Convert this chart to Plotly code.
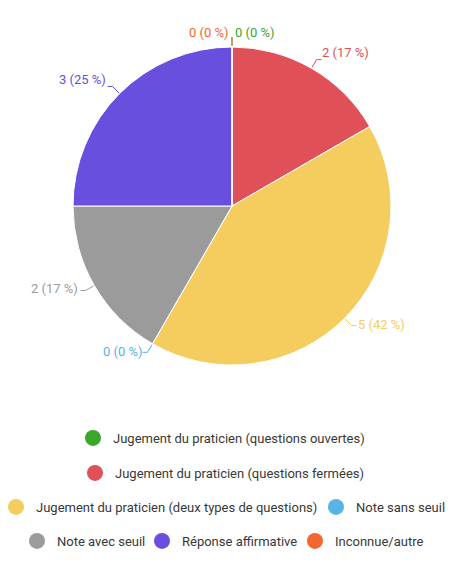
import math
import plotly.graph_objects as go

# ---- data ----
labels = [
    "Jugement du praticien (questions ouvertes)",
    "Jugement du praticien (questions fermées)",
    "Jugement du praticien (deux types de questions)",
    "Note sans seuil",
    "Note avec seuil",
    "Réponse affirmative",
    "Inconnue/autre",
]
values = [0, 2, 5, 0, 2, 3, 0]
colors = ["#3aa62b", "#df5058", "#f4cd5e", "#58b3e6", "#9b9b9b", "#6a4fdf", "#f2662f"]

# ---- geometry (page pixels; page body has an 8px margin) ----
W, H = 462, 582
OFF = 8
cx, cy, R = 232, 206, 159
total = sum(values)
pcts = [round(v / total * 100) for v in values]
FONT = "Roboto"

# legend marker centres (page px), one per category
legend_pos = [(94, 438), (96, 473), (17, 507), (337, 507), (38, 541), (163, 541), (316, 541)]
MARKER_TO_LEFT = 21


def px2paper(x, y):
    return (x - OFF) / W, 1 - (y - OFF) / H


fig = go.Figure()
dx0, dy1 = px2paper(cx - R, cy - R)
dx1, dy0 = px2paper(cx + R, cy + R)
fig.add_trace(go.Pie(
    values=values, labels=labels, sort=False, direction="clockwise", rotation=0,
    marker=dict(colors=colors, line=dict(color="white", width=1)),
    textinfo="none", hoverinfo="skip", showlegend=False,
    domain=dict(x=[dx0, dx1], y=[dy0, dy1]),
))

annotations = []
shapes = []
cum = 0
for i, v in enumerate(values):
    a0 = cum / total * 360
    cum += v
    a1 = cum / total * 360
    mid = math.radians((a0 + a1) / 2)
    s, c = math.sin(mid), math.cos(mid)
    right = (a0 + a1) / 2 < 180
    side = 1 if right else -1
    vertical = abs(s) < 0.2
    # leader line
    x0, y0 = cx + (R + 1) * s, cy - (R + 1) * c
    x1, y1 = cx + (R + 10) * s, cy - (R + 10) * c
    x2 = x1 if vertical else x1 + side * 5
    for (xa, ya), (xb, yb) in [((x0, y0), (x1, y1)), ((x1, y1), (x2, y1))]:
        if abs(xa - xb) + abs(ya - yb) < 0.5:
            continue
        pa = px2paper(xa, ya)
        pb = px2paper(xb, yb)
        shapes.append(dict(type="line", xref="paper", yref="paper",
                           x0=pa[0], y0=pa[1], x1=pb[0], y1=pb[1],
                           line=dict(color=colors[i], width=1)))
    tx, ty = cx + (R + 16) * s, cy - (R + 14) * c - 4
    if vertical:
        tx = cx + side * 1
        ty = cy - (R + 5) * c
    pt = px2paper(tx, ty)
    annotations.append(dict(
        x=pt[0], y=pt[1], xref="paper", yref="paper", showarrow=False,
        text=f"{v} ({pcts[i]} %)", xanchor="left" if right else "right",
        yanchor="bottom" if vertical else "middle",
        font=dict(family=FONT, size=13, color=colors[i]),
    ))

# legend: one small legend per category, placed at its marker position
layout_legends = {}
for i, lab in enumerate(labels):
    lname = "legend" if i == 0 else f"legend{i + 1}"
    lx, ly = px2paper(legend_pos[i][0] - MARKER_TO_LEFT, legend_pos[i][1])
    layout_legends[lname] = dict(
        orientation="h", x=lx, xanchor="left", y=ly, yanchor="middle",
        font=dict(family=FONT, size=13, color="#383838"), bgcolor="rgba(0,0,0,0)",
        itemclick=False, itemdoubleclick=False,
    )
    fig.add_trace(go.Scatter(
        x=[None], y=[None], mode="markers", name=lab,
        marker=dict(size=16, color=colors[i]), legend=lname,
        showlegend=True, hoverinfo="skip",
    ))

fig.update_layout(
    width=W, height=H, margin=dict(l=0, r=0, t=0, b=0, autoexpand=False),
    paper_bgcolor="white", plot_bgcolor="white",
    font=dict(family=FONT),
    xaxis=dict(visible=False), yaxis=dict(visible=False),
    annotations=annotations, shapes=shapes,
    **layout_legends,
)
fig.write_html("out.html")
